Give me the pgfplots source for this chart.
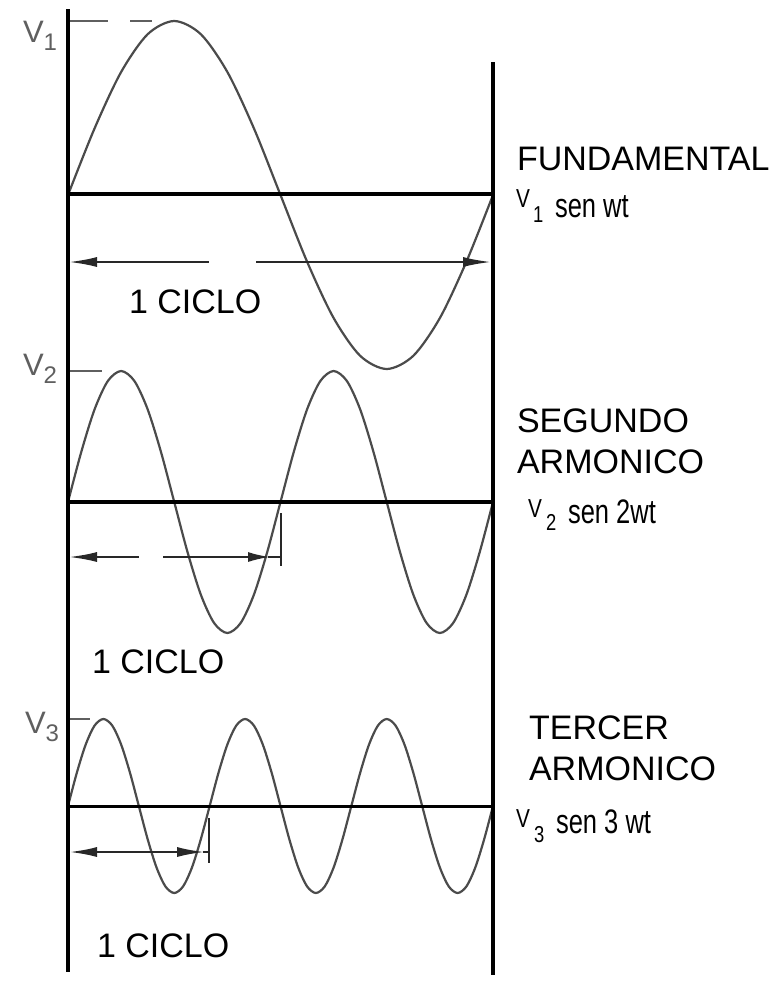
\documentclass[border=0pt]{standalone}
\usepackage{pgfplots}
\pgfplotsset{compat=1.18}
\usepackage{fontspec}
\setmainfont{Liberation Sans}
\usetikzlibrary{arrows.meta}
\definecolor{cgray}{RGB}{75,75,75}
\definecolor{agray}{RGB}{40,40,40}
\definecolor{mgray}{RGB}{95,95,95}
\newcommand{\bigf}{\fontsize{17pt}{20pt}\selectfont}
\newcommand{\midf}{\fontsize{15.5pt}{18pt}\selectfont}
\newcommand{\smlf}{\fontsize{13pt}{15pt}\selectfont}
\newcommand{\subf}{\fontsize{11.5pt}{13pt}\selectfont}
\begin{document}
\begin{tikzpicture}
\begin{axis}[
  hide axis, scale only axis, width=387pt, height=491pt,
  xmin=0, xmax=774, ymin=0, ymax=982, y dir=reverse, clip=false,
  every node/.style={inner sep=0pt, outer sep=0pt}
]
\path (axis cs:0,0) rectangle (axis cs:774,982);
% sine curves
\addplot[cgray, line width=1.1pt, smooth] coordinates {(68,195)(94.56,128.4)(121.13,72.0)(147.69,34.2)(174.25,21)(200.81,34.2)(227.38,72.0)(253.94,128.4)(280.5,195)(307.06,261.6)(333.63,318.0)(360.19,355.8)(386.75,369)(413.31,355.8)(439.88,318.0)(466.44,261.6)(493,195)};
\addplot[cgray, line width=1.1pt, smooth] coordinates {(68,502)(81.28,451.9)(94.56,409.4)(107.84,381.0)(121.13,371)(134.41,381.0)(147.69,409.4)(160.97,451.9)(174.25,502)(187.53,552.1)(200.81,594.6)(214.09,623.0)(227.38,633)(240.66,623.0)(253.94,594.6)(267.22,552.1)(280.5,502)(293.78,451.9)(307.06,409.4)(320.34,381.0)(333.63,371)(346.91,381.0)(360.19,409.4)(373.47,451.9)(386.75,502)(400.03,552.1)(413.31,594.6)(426.59,623.0)(439.88,633)(453.16,623.0)(466.44,594.6)(479.72,552.1)(493,502)};
\addplot[cgray, line width=1.1pt, smooth] coordinates {(68,806)(76.85,772.7)(85.71,744.5)(94.56,725.6)(103.42,719)(112.27,725.6)(121.13,744.5)(129.98,772.7)(138.83,806)(147.69,839.3)(156.54,867.5)(165.40,886.4)(174.25,893)(183.10,886.4)(191.96,867.5)(200.81,839.3)(209.67,806)(218.52,772.7)(227.38,744.5)(236.23,725.6)(245.08,719)(253.94,725.6)(262.79,744.5)(271.65,772.7)(280.50,806)(289.35,839.3)(298.21,867.5)(307.06,886.4)(315.92,893)(324.77,886.4)(333.63,867.5)(342.48,839.3)(351.33,806)(360.19,772.7)(369.04,744.5)(377.90,725.6)(386.75,719)(395.60,725.6)(404.46,744.5)(413.31,772.7)(422.17,806)(431.02,839.3)(439.88,867.5)(448.73,886.4)(457.58,893)(466.44,886.4)(475.29,867.5)(484.15,839.3)(493,806)};
% peak markers
\addplot[mgray, line width=1pt] coordinates {(68,21)(108,21)};
\addplot[mgray, line width=1pt] coordinates {(130,21)(152,21)};
\addplot[mgray, line width=1pt] coordinates {(68,371)(102,371)};
\addplot[mgray, line width=1pt] coordinates {(68,719)(90,719)};
% frame lines
\addplot[black, line width=2pt] coordinates {(68,9)(68,972)};
\addplot[black, line width=2pt] coordinates {(493,62)(493,975)};
\addplot[black, line width=2pt] coordinates {(68,194)(493,194)};
\addplot[black, line width=2pt] coordinates {(68,502)(493,502)};
\addplot[black, line width=1.5pt] coordinates {(68,806)(493,806)};
% cycle arrows
\addplot[agray, line width=1pt, {Latex[length=14pt,width=5pt]}-] coordinates {(69,262)(209,262)};
\addplot[agray, line width=1pt, -{Latex[length=14pt,width=5pt]}] coordinates {(256,262)(491,262)};
\addplot[agray, line width=1pt, {Latex[length=14pt,width=5pt]}-] coordinates {(69,557)(139,557)};
\addplot[agray, line width=1pt, -{Latex[length=11pt,width=5pt]}] coordinates {(163,557)(270,557)};
\addplot[agray, line width=1pt] coordinates {(268,557)(281,557)};
\addplot[agray, line width=1pt] coordinates {(281,513)(281,566)};
\addplot[agray, line width=1.2pt, {Latex[length=14pt,width=5pt]}-{Latex[length=14pt,width=5pt]}] coordinates {(69,852)(205,852)};
\addplot[agray, line width=1.2pt] coordinates {(203,852)(209,852)};
\addplot[agray, line width=1pt] coordinates {(209,818)(209,863)};
% left labels
\node[anchor=base west, text=mgray] at (axis cs:16,42) {\midf V\raisebox{-4pt}{\fontsize{12pt}{14pt}\selectfont 1}};
\node[anchor=base west, text=mgray] at (axis cs:16,375) {\midf V\raisebox{-4pt}{\fontsize{12pt}{14pt}\selectfont 2}};
\node[anchor=base west, text=mgray] at (axis cs:18,733) {\midf V\raisebox{-4pt}{\fontsize{12pt}{14pt}\selectfont 3}};
% 1 CICLO labels
\node[anchor=base west] at (axis cs:122,313) {\bigf 1 CICLO};
\node[anchor=base west] at (axis cs:85,673) {\bigf 1 CICLO};
\node[anchor=base west] at (axis cs:90,957) {\bigf 1 CICLO};
% right titles
\node[anchor=base west] at (axis cs:510,170) {\bigf FUNDAMENTAL};
\node[anchor=base west] at (axis cs:510,432) {\bigf SEGUNDO};
\node[anchor=base west] at (axis cs:510,473) {\bigf ARMONICO};
\node[anchor=base west] at (axis cs:522,739) {\bigf TERCER};
\node[anchor=base west] at (axis cs:522,780) {\bigf ARMONICO};
% formulas
\node[anchor=base west] at (axis cs:509,207) {\scalebox{0.8}[1]{\smlf V}};
\node[anchor=base west] at (axis cs:526,222) {\scalebox{0.8}[1]{\subf 1}};
\node[anchor=base west] at (axis cs:548,217) {\scalebox{0.75}[1]{\fontsize{17pt}{20pt}\selectfont sen wt}};
\node[anchor=base west] at (axis cs:521,517) {\scalebox{0.8}[1]{\smlf V}};
\node[anchor=base west] at (axis cs:539,530) {\scalebox{0.8}[1]{\subf 2}};
\node[anchor=base west] at (axis cs:561,523) {\scalebox{0.75}[1]{\fontsize{17pt}{20pt}\selectfont sen 2wt}};
\node[anchor=base west] at (axis cs:509,827) {\scalebox{0.8}[1]{\smlf V}};
\node[anchor=base west] at (axis cs:527,842) {\scalebox{0.8}[1]{\subf 3}};
\node[anchor=base west] at (axis cs:549,833) {\scalebox{0.75}[1]{\fontsize{17pt}{20pt}\selectfont sen 3 wt}};
\end{axis}
\end{tikzpicture}
\end{document}
